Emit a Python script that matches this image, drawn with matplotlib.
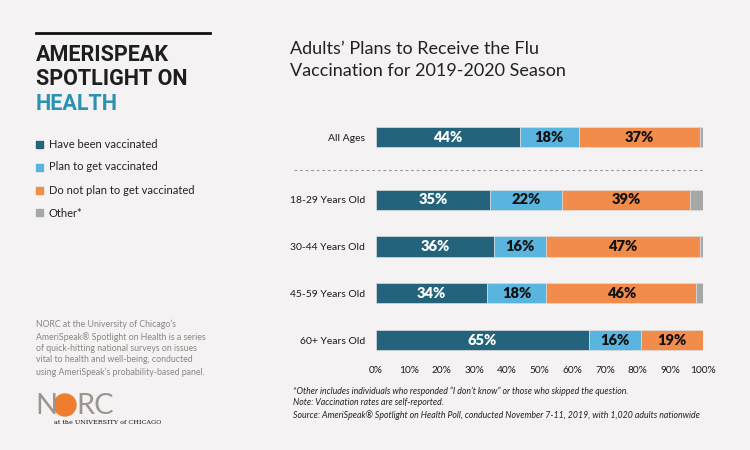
import numpy as np
import matplotlib.pyplot as plt
from matplotlib.patches import Rectangle, Ellipse

# Data
groups = ['All Ages', '18-29 Years Old', '30-44 Years Old', '45-59 Years Old', '60+ Years Old']
vaccinated = [44, 35, 36, 34, 65]
plan = [18, 22, 16, 18, 16]
no_plan = [37, 39, 47, 46, 19]
other = [1, 4, 1, 2, 0.3]
series_names = ['Have been vaccinated', 'Plan to get vaccinated',
                'Do not plan to get vaccinated', 'Other*']
ticks = [0, 10, 20, 30, 40, 50, 60, 70, 80, 90, 100]

colors = ['#23637b', '#5ab4e0', '#f28c4a', '#a7a7a7']
label_colors = ['white', '#111111', '#111111', None]
bg = '#f4f2f3'

plt.rcParams['font.family'] = ['Lato', 'DejaVu Sans']

fig = plt.figure(figsize=(7.5, 4.5), dpi=100, facecolor=bg)
W, H = 750, 450

def fx(px):
    return px / W

def fy(py):
    return 1 - py / H

# bar axes
ax = fig.add_axes([fx(376), fy(355), fx(703) - fx(376), fy(125) - fy(355)])
ax.set_facecolor(bg)
ypos = [4.34, 3, 2, 1, 0]
data = [vaccinated, plan, no_plan, other]
left = np.zeros(len(groups))
for i, vals in enumerate(data):
    vals = np.array(vals, dtype=float)
    ax.barh(ypos, vals, left=left, height=0.43, color=colors[i],
            edgecolor='#dcdcdc', linewidth=0.5)
    if label_colors[i]:
        for y, l, v in zip(ypos, left, vals):
            ax.text(l + v / 2, y, f'{v:.0f}%', ha='center', va='center',
                    color=label_colors[i], fontsize=10.5, fontweight='heavy')
    left += vals

ax.set_xlim(0, 100)
ax.set_ylim(-0.32, 4.6)
ax.set_yticks(ypos)
ax.set_yticklabels(groups, fontsize=7.5, color='#1a1a1a')
ax.set_xticks(ticks)
ax.set_xticklabels([f'{t}%' for t in ticks], fontsize=7.3, color='#1a1a1a')
ax.tick_params(length=0, pad=8)
ax.tick_params(axis='y', pad=8)
for s in ax.spines.values():
    s.set_visible(False)

# dashed separator
fig.add_artist(plt.Line2D([fx(294), fx(703)], [fy(170), fy(170)],
                          color='#999999', lw=0.8, ls=(0, (2.5, 2.5))))

# chart title
fig.text(fx(290), fy(60), "Adults\u2019 Plans to Receive the Flu\nVaccination for 2019-2020 Season",
         fontsize=13, color='#222222', va='center', ha='left', linespacing=1.45)

# left panel
fig.add_artist(plt.Line2D([fx(36), fx(210)], [fy(33), fy(33)], color='#111111', lw=2))
fig.text(fx(36), fy(67), 'AMERISPEAK\nSPOTLIGHT ON', fontsize=15.5, fontweight='bold',
         family='Roboto', color='#1e1e1e', va='center', ha='left', linespacing=1.12)
fig.text(fx(36), fy(104), 'HEALTH', fontsize=15.5, fontweight='bold', family='Roboto',
         color='#2a93b0', va='center', ha='left')

for i, name in enumerate(series_names):
    y = 144 + i * 23
    fig.patches.append(Rectangle((fx(36), fy(y + 3.5)), fx(7), fy(0) - fy(7),
                                 transform=fig.transFigure, color=colors[i]))
    fig.text(fx(49), fy(y), name, fontsize=8, color='#222222', va='center')

fig.text(fx(36), fy(348),
         "NORC at the University of Chicago\u2019s\n"
         "AmeriSpeak\u00ae Spotlight on Health is a series\n"
         "of quick-hitting national surveys on issues\n"
         "vital to health and well-being, conducted\n"
         "using AmeriSpeak\u2019s probability-based panel.",
         fontsize=6.3, color='#8c8682', va='center', linespacing=1.35)

# NORC logo
fig.text(fx(35), fy(406), 'N', fontsize=21, color='#9d958f', va='center')
fig.patches.append(Ellipse((fx(65), fy(405)), 22 / W, 22 / H,
                           transform=fig.transFigure, color='#ee7d2e'))
fig.text(fx(76), fy(406), 'RC', fontsize=21, color='#9d958f', va='center')
fig.text(fx(54), fy(423), 'at the UNIVERSITY of CHICAGO', fontsize=4.6,
         family='DejaVu Serif', color='#111111', va='center')

# footnotes
fig.text(fx(293), fy(403),
         "*Other includes individuals who responded \u201cI don\u2019t know\u201d or those who skipped the question.\n"
         "Note: Vaccination rates are self-reported.\n"
         "Source: AmeriSpeak\u00ae Spotlight on Health Poll, conducted November 7-11, 2019, with 1,020 adults nationwide",
         fontsize=6.3, style='italic', color='#222222', va='center', linespacing=1.35)

fig.savefig('out.png', dpi=100, facecolor=bg)
